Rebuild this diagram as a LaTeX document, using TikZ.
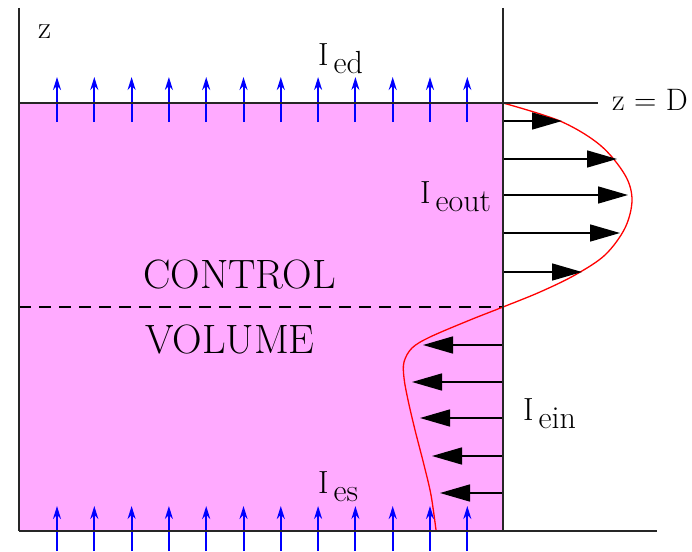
\documentclass[tikz,border=0pt]{standalone}
\usepackage{tikz}
\usetikzlibrary{arrows.meta}
\definecolor{CVPink}{RGB}{255,170,255}
\definecolor{FluxBlue}{RGB}{0,0,255}
\newcommand{\fluxlbl}[1]{I\hspace{5pt}\raisebox{-8pt}{#1}}

\begin{document}
\begin{tikzpicture}[x=1pt,y=-1pt,
      frame/.style={line width=1.6pt,color=black!85},
      upArr/.style={-{Stealth[length=13pt,width=8pt]},line width=2pt,color=FluxBlue},
      sideArr/.style={-{Triangle[length=30pt,width=17pt]},line width=1.5pt,color=black},
      lbl/.style={anchor=base west,inner sep=0pt,font=\fontsize{32}{34}\selectfont},
      bigLbl/.style={anchor=base west,inner sep=0pt,font=\fontsize{41}{44}\selectfont}
    ]
    \useasboundingbox (0,0) rectangle (692,551);

    % Control volume
    \fill[CVPink] (19,103) rectangle (503,531);
    \draw[dashed,line width=1.3pt,dash pattern=on 12pt off 8pt] (19,307) -- (503,307);

    % Flux profile
    \draw[red,line width=1.3pt] plot[smooth,tension=0.55] coordinates {
      (503,103) (560,121) (600,145) (625,175) (632,200) (625,228) (605,255)
      (575,275) (540,292) (503,307) (470,320) (430,337) (412,348) (404,362)
      (404,378) (408,400) (415,430) (424,465) (431,495) (436,530)};

    % Outgoing arrows
    \draw[sideArr] (503,121) -- (562,121);
    \draw[sideArr] (503,159) -- (617,159);
    \draw[sideArr] (503,195) -- (628,195);
    \draw[sideArr] (503,233) -- (620,233);
    \draw[sideArr] (503,272) -- (582,272);

    % Incoming arrows
    \draw[sideArr] (503,345) -- (423,345);
    \draw[sideArr] (503,382) -- (412,382);
    \draw[sideArr] (503,418) -- (420,418);
    \draw[sideArr] (503,456) -- (432,456);
    \draw[sideArr] (503,493) -- (440,493);

    % Top and bottom fluxes
    \foreach \xx in {0,...,11}
      \draw[upArr] ({57+37.3*\xx},122) -- ({57+37.3*\xx},77);
    \foreach \xx in {0,...,11}
      \draw[upArr] ({57+37.3*\xx},551) -- ({57+37.3*\xx},506);

    % Frame
    \draw[frame] (19,8) -- (19,531);
    \draw[frame] (503,8) -- (503,531);
    \draw[frame] (19,103) -- (598,103);
    \draw[frame] (19,531) -- (657,531);

    % Labels
    \node(zax)[lbl] at (38,38) {z};
    \node(zD)[lbl,font=\fontsize{31}{33}\selectfont] at (612,110) {z = D};
    \node(ied)[lbl] at (318,65) {\fluxlbl{ed}};
    \node(ieout)[lbl] at (420,203) {\fluxlbl{eout}};
    \node(iein)[lbl] at (523,420) {\fluxlbl{ein}};
    \node(ies)[lbl] at (318,493) {\fluxlbl{es}};
    \node(ctl)[bigLbl] at (143,288) {CONTROL};
    \node(vol)[bigLbl] at (145,353) {VOLUME};
  \end{tikzpicture}
\end{document}
